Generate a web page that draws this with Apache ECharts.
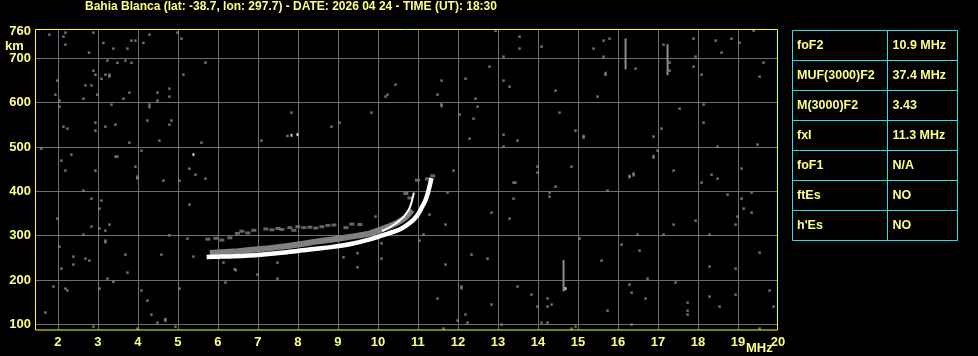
<!DOCTYPE html>
<html><head><meta charset="utf-8">
<script src="https://cdn.jsdelivr.net/npm/echarts@6/dist/echarts.min.js"></script>
<style>html,body{margin:0;padding:0;background:#000;overflow:hidden}#c{width:978px;height:356px;}</style>
</head><body><div id="c"></div>
<script>
const titleText = 'Bahia Blanca (lat: -38.7, lon: 297.7) - DATE: 2026 04 24 - TIME (UT): 18:30';
const xTicks = [2,3,4,5,6,7,8,9,10,11,12,13,14,15,16,17,18,19];
const xLabels = [2,3,4,5,6,7,8,9,10,11,12,13,14,15,16,17,18,19,20];
const yTicks = [100,200,300,400,500,600,700];
const yLabels = [100,200,300,400,500,600,700,760];
const xUnit = 'MHz';
const yUnit = 'km';

// main (white) trace: [MHz, km]
const oTrace = [[5.72,252],[6.0,252.5],[6.4,253.5],[7.07,257],[7.73,262.5],[8.4,270],[8.82,274],[9.32,281],[9.82,292],[10.23,304],[10.57,315],[10.82,330],[10.98,345],[11.1,364],[11.19,380],[11.26,400],[11.34,430]];
// thin upper trace
const xTrace = [[10.1,310],[10.32,320],[10.5,331],[10.65,343],[10.78,360],[10.84,375],[10.9,397]];
// gray echo band above the main trace
const echoBand = [[5.8,261],[6.5,265],[7.0,269],[7.5,274],[8.0,280],[8.5,287],[9.0,293],[9.5,300],[9.8,305],[10.2,318],[10.5,330],[10.7,342],[10.85,358]];
// gray echo dashes (~300-325 km)
const echoDashes = [[5.75,292],[5.95,294],[6.1,290],[6.3,295],[6.49,305],[6.6,310],[6.75,306],[6.9,312],[7.2,315],[7.35,313],[7.5,316],[7.6,314],[7.8,318],[7.9,312],[8.0,320],[8.15,318],[8.3,319],[8.45,317],[8.6,320],[8.75,323],[8.9,324],[9.2,318],[9.35,326],[9.55,325],[10.99,425],[11.24,428],[11.37,435],[10.7,395],[10.8,385]];
// scattered gray noise dots
const noise = [
[1.79,753.5],[2.19,758],[2.14,749],[2.19,731],[2.89,758],[2.78,713],[3.14,735],[3.39,722],[3.74,722],[3.84,740],[3.94,740],[4.14,735],[4.29,753.5],[4.99,758],[5.09,744.5],
[3.24,695],[3.49,690],[3.69,695],[3.84,690],[2.89,672],[2.94,663],[3.19,663],[3.29,663],[3.29,659],[3.09,654],[2.69,639],[2.84,639],[2.99,618],[2.64,609],[2.04,604.5],[1.94,618],[1.99,649.7],[2.04,591],
[3.34,595.6],[3.64,609],[3.79,622.6],[4.49,622.6],[4.49,604.6],[4.79,631.6],[4.79,613.6],[4.29,595.6],[4.29,590],[4.24,559.5],[4.84,559.5],[4.79,550.4],[3.44,550.4],[3.19,546],[2.94,555],[2.94,537],[2.14,546],[2.24,541.4],
[4.54,514.3],[3.79,509.8],[4.09,491.8],[5.59,509.8],[5.69,690.3],[5.14,663.2],[1.59,496.3],[2.34,482.8],[2.09,469.2],[2.19,446.7],[3.44,478.2],[3.49,478.2],[2.94,446.7],[3.94,455.7],[3.99,433],[3.99,429],
[4.64,424],[5.04,424],[5.29,451],[5.44,437.6],[5.69,428.6],[5.29,370],[2.64,401.5],[2.84,383.5],[3.09,379],[3.04,361],[1.99,338.4],[2.84,320.3],[3.04,315.8],[3.19,311.3],[3.29,324.8],[2.64,302.3],[3.19,288.7],[3.19,285],[2.04,275.2],
[4.79,300.8],[5.24,293.2],[3.69,257.2],[4.59,257.2],[2.39,252.6],[2.69,248.1],[2.79,243.6],[2.39,234.6],[2.09,225.6],[3.74,216.5],[3.24,203],[3.39,195.5],[1.89,185],[2.19,180.4],[2.24,176],[3.04,180.4],[4.09,176],[5.04,180.4],
[4.24,153.4],[4.34,121.8],[4.49,103.7],[4.69,111.3],[4.69,108],[4.94,94.7],[2.89,94.7],[3.99,90.2],[1.69,126.3],[6.19,194],[6.99,212],[7.49,203],[7.49,239.1],[6.14,239.1],[6.42,224],[6.45,222],[5.39,252.6],
[7.84,577.5],[8.84,545.9],[9.04,554.9],[9.84,577.5],[10.19,613.6],[10.24,618.1],[10.44,640.7],[7.09,514.3],[7.74,524.9],[9.14,251.1],[9.49,260.2],[9.49,228.6],[10.09,248.1],[10.09,282.7],[9.94,342.9],
[12.94,762.5],[13.54,749],[13.54,722],[14.09,726.4],[13.14,703.8],[12.79,681.3],[11.59,649.7],[12.19,654.2],[11.49,618.1],[12.44,609.1],[12.49,591],[11.59,592.5],[11.59,596],[12.04,573],[12.39,564],[13.14,649.7],[13.29,636.2],[14.44,627.1],
[15.49,613.6],[15.69,663.2],[15.69,667],[15.79,744.5],[15.64,740],[15.39,722],[15.64,703.8],[16.44,676.8],[17.14,731],[17.29,690.3],[17.29,672.3],[17.89,744.5],[18.44,740],[18.84,744.5],[19.04,735.4],[18.59,712.9],[17.94,703.8],[17.89,681.3],[18.09,663.2],[19.64,690.3],[19.54,658.7],[19.39,762.5],
[14.54,577.5],[14.94,536.9],[15.14,524.9],[15.14,521],[13.14,527.9],[13.49,514.3],[12.29,518.8],[13.14,500.8],[13.99,455.7],[13.99,442.1],[14.84,455.7],[14.44,410.6],[14.29,397],[14.29,388],[13.39,419.6],[13.44,419.6],[11.89,446.7],[11.74,397],
[12.84,351.9],[13.29,338.4],[13.39,383.5],[11.69,324.8],[11.29,347.4],[11.14,302.3],[11.04,288.7],[15.74,401.5],[16.29,431.6],[16.29,435],[16.39,436.1],[16.39,440],[16.89,523.4],[17.09,541.4],[16.89,479.7],[16.89,476],[16.99,491.8],[17.54,586.5],[18.14,595.6],[18.14,555],[18.49,500.8],[19.49,505.3],
[17.39,446.7],[18.34,437.6],[18.49,428.6],[18.09,419.6],[18.74,392.5],[19.09,451.2],[19.34,397],[19.09,383.5],[19.14,361],[19.34,351.9],[18.99,342.9],[18.94,324.8],[17.94,333.9],[17.39,324.8],[16.49,302.3],[17.14,302.3],[18.29,302.3],[15.04,293.2],[16.09,279.7],[16.54,266.2],[15.59,243.6],[19.54,261.7],[18.29,230.1],[18.94,225.6],
[12.34,257.2],[12.74,248.1],[11.69,234.6],[16.74,203],[17.44,194],[16.29,189.5],[16.34,171.4],[16.69,157.9],[11.49,157.9],[12.09,185],[12.09,181],[13.49,185],[13.84,166.9],[14.24,157.9],[14.34,144.4],[14.24,139.8],[13.99,139.8],[12.84,144.4],[12.19,121.8],[11.99,108.3],[12.24,103.7],[13.09,99.2],[14.09,103.7],[14.24,103.7],
[14.94,94.7],[14.84,90.2],[15.74,130.8],[16.34,99.2],[17.74,148.9],[17.74,130.8],[17.74,121.8],[18.54,139.8],[18.29,162.4],[18.94,166.9],[19.79,176],[19.89,139.8],[19.54,90.2],[11.64,90.2]
];
const whiteDots = [[5.39,482.8],[7.84,526.4],[7.99,527.9],[14.69,180.4]];
// vertical gray streaks
const streaks = [[[16.19,745],[16.19,675]],[[17.24,732],[17.24,662]],[[14.64,245],[14.64,174]]];

const tableLabels = ['foF2','MUF(3000)F2','M(3000)F2','fxI','foF1','ftEs',"h'Es"];
const tableValues = ['10.9 MHz','37.4 MHz','3.43','11.3 MHz','N/A','NO','NO'];

const YEL = '#ffff80', CYAN = '#1ee6e6', GRID = '#6e6e6e', DOT = '#8c8c8c';
const FONT = '"Liberation Sans", Arial, sans-serif';

const chart = echarts.init(document.getElementById('c'), null, {renderer:'canvas'});

const series = [];
streaks.forEach(s => series.push({type:'line', data:s, symbol:'none', lineStyle:{color:DOT,width:2}, silent:true, animation:false, z:2}));
series.push({type:'scatter', data:noise, symbol:'rect', symbolSize:2.5, itemStyle:{color:DOT}, silent:true, animation:false, z:2});
series.push({type:'line', data:echoBand, smooth:0.3, symbol:'none', lineStyle:{color:'#808080',width:6}, silent:true, animation:false, z:3});
series.push({type:'scatter', data:echoDashes, symbol:'rect', symbolSize:[5,3], itemStyle:{color:'#808080'}, silent:true, animation:false, z:3});
series.push({type:'line', data:xTrace, smooth:0.3, symbol:'none', lineStyle:{color:'#ffffff',width:2}, silent:true, animation:false, z:4});
series.push({type:'line', data:oTrace, smooth:0.3, symbol:'none', lineStyle:{color:'#ffffff',width:4.5, cap:'butt'}, silent:true, animation:false, z:5});
series.push({type:'scatter', data:whiteDots, symbol:'rect', symbolSize:[2,3], itemStyle:{color:'#ffffff'}, silent:true, animation:false, z:5});

const graphics = [];
// plot frame
graphics.push({type:'rect', shape:{x:35.5, y:29.5, width:742, height:300.5}, style:{fill:'none', stroke:'#ffff00', lineWidth:1}, silent:true, z:10});
const tx = 792.5, ty = 30.5, tw = 165, rh = 30, c1 = 95;
graphics.push({type:'rect', shape:{x:tx, y:ty, width:tw, height:rh*tableLabels.length}, style:{fill:'none', stroke:CYAN, lineWidth:1}, silent:true});
for (let i=1;i<tableLabels.length;i++) graphics.push({type:'line', shape:{x1:tx, y1:ty+i*rh, x2:tx+tw, y2:ty+i*rh}, style:{stroke:CYAN, lineWidth:1}, silent:true});
graphics.push({type:'line', shape:{x1:tx+c1, y1:ty, x2:tx+c1, y2:ty+rh*tableLabels.length}, style:{stroke:CYAN, lineWidth:1}, silent:true});
tableLabels.forEach((t,i)=>{
  graphics.push({type:'text', x:tx+4.5, y:ty+i*rh+rh/2, style:{text:t, fill:YEL, font:'bold 12.5px '+FONT, verticalAlign:'middle'}, silent:true});
  graphics.push({type:'text', x:tx+c1+5, y:ty+i*rh+rh/2, style:{text:tableValues[i], fill:YEL, font:'bold 12.5px '+FONT, verticalAlign:'middle'}, silent:true});
});
graphics.push({type:'text', x:5, y:46, style:{text:yUnit, fill:YEL, font:'bold 13px '+FONT, verticalAlign:'middle'}, silent:true});
graphics.push({type:'text', x:746, y:348, style:{text:xUnit, fill:YEL, font:'bold 13px '+FONT, verticalAlign:'middle'}, silent:true});

chart.setOption({
  backgroundColor:'#000',
  animation:false,
  title:{text:titleText, left:85, top:1, padding:0, textStyle:{color:YEL, fontSize:12, fontWeight:'bold', fontFamily:FONT}},
  grid:{left:35, top:30, width:743, height:300, show:false, containLabel:false},
  xAxis:{type:'value', min:1.43, max:20.0,
    axisLine:{show:false}, axisTick:{show:false, customValues:xTicks},
    axisLabel:{customValues:xLabels, color:YEL, fontSize:13, fontWeight:'bold', fontFamily:FONT, margin:6},
    splitLine:{show:true, lineStyle:{color:GRID, width:1}}},
  yAxis:{type:'value', min:87, max:764,
    axisLine:{show:false}, axisTick:{show:false, customValues:yTicks},
    axisLabel:{customValues:yLabels, color:YEL, fontSize:13, fontWeight:'bold', fontFamily:FONT, margin:4},
    splitLine:{show:true, lineStyle:{color:GRID, width:1}}},
  series:series,
  graphic:graphics
});
</script></body></html>
